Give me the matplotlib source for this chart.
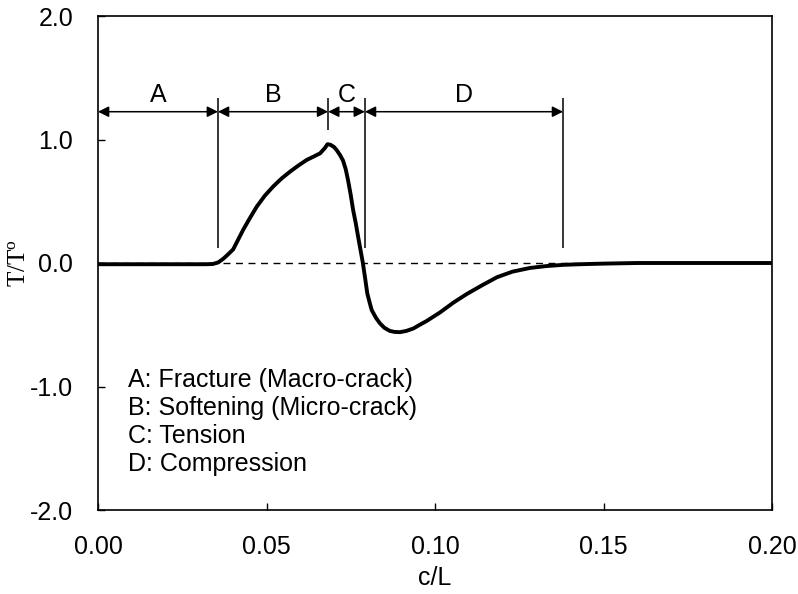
import matplotlib
matplotlib.use("Agg")
import matplotlib.pyplot as plt

plt.rcParams["font.family"] = ["Liberation Sans", "DejaVu Sans"]
plt.rcParams["mathtext.fontset"] = "custom"
plt.rcParams["mathtext.rm"] = "Liberation Serif"
plt.rcParams["mathtext.it"] = "Liberation Serif:italic"

# curve
c_over_L = [0.000, 0.010, 0.020, 0.030, 0.0320, 0.0341, 0.0357, 0.0372, 0.0386,
            0.0401, 0.0416, 0.0431, 0.0451, 0.0471, 0.0495, 0.0520, 0.0545,
            0.0570, 0.0595, 0.0619, 0.0640, 0.0659, 0.0673, 0.0681, 0.0690,
            0.0700, 0.0708, 0.0718, 0.0727, 0.0735, 0.0742, 0.0750, 0.0757,
            0.0765, 0.0772, 0.0779, 0.0786, 0.0793, 0.0799, 0.0806, 0.0812,
            0.0825, 0.0837, 0.0850, 0.0866, 0.0880, 0.0896, 0.0915, 0.0936,
            0.0955, 0.0975, 0.0995, 0.1015, 0.1055, 0.1095, 0.1140, 0.1184,
            0.1230, 0.1282, 0.1330, 0.1380, 0.1430, 0.1500, 0.1600, 0.1800,
            0.2000]
T_over_T0 = [-0.01, -0.01, -0.01, -0.01, -0.01, -0.008, 0.005, 0.035, 0.07,
             0.11, 0.19, 0.27, 0.365, 0.456, 0.545, 0.62, 0.685,
             0.74, 0.79, 0.834, 0.862, 0.888, 0.93, 0.962, 0.957,
             0.94, 0.915, 0.875, 0.83, 0.76, 0.67, 0.55, 0.43,
             0.32, 0.21, 0.105, 0.0, -0.13, -0.245, -0.32, -0.38,
             -0.445, -0.49, -0.525, -0.55, -0.558, -0.56, -0.55, -0.53,
             -0.50, -0.47, -0.435, -0.40, -0.32, -0.25, -0.18, -0.115,
             -0.07, -0.04, -0.025, -0.015, -0.01, -0.005, 0.0, 0.0,
             0.0]

# zone boundaries (c/L) and labels
zone_edges = [0.0, 0.0356, 0.0683, 0.0792, 0.138]
zone_names = ["A", "B", "C", "D"]
zone_text = ["A: Fracture (Macro-crack)", "B: Softening (Micro-crack)",
             "C: Tension", "D: Compression"]

fig = plt.figure(figsize=(7.98, 5.94), dpi=100)
ax = fig.add_axes([98 / 798, 1 - 510 / 594, 674 / 798, 494 / 594])

ax.axhline(0, color="black", lw=1.0, ls=(0, (5, 4)), zorder=1)
ax.plot(c_over_L, T_over_T0, color="black", lw=2.8, solid_joinstyle="round",
        solid_capstyle="round", zorder=3)

# vertical markers
ax.vlines([zone_edges[1], zone_edges[3], zone_edges[4]], 0.12, 1.34, color="black", lw=1.1)
ax.vlines(zone_edges[2], 1.08, 1.34, color="black", lw=1.1)

arrow_y = 1.225
for i, name in enumerate(zone_names):
    x0, x1 = zone_edges[i], zone_edges[i + 1]
    ax.annotate("", xy=(x1, arrow_y), xytext=(x0, arrow_y),
                arrowprops=dict(arrowstyle="<|-|>", color="black", lw=1.1,
                                mutation_scale=16, shrinkA=0, shrinkB=0))
    ax.text((x0 + x1) / 2, 1.30, name, ha="center", va="baseline", fontsize=18)

for i, t in enumerate(zone_text):
    ax.text(0.0089, -1.004 - 0.227 * i, t, ha="left", va="baseline", fontsize=18)

ax.set_xlim(0, 0.2)
ax.set_ylim(-2.0, 2.0)
ax.set_xticks([0.00, 0.05, 0.10, 0.15, 0.20])
ax.set_xticklabels(["0.00", "0.05", "0.10", "0.15", "0.20"])
ax.set_yticks([-2.0, -1.0, 0.0, 1.0, 2.0])
ax.set_yticklabels(["-2.0", "-1.0", "0.0", "1.0", "2.0"])
ax.tick_params(direction="in", length=5, width=1.0, labelsize=18, pad=18)
for s in ax.spines.values():
    s.set_linewidth(1.2)

ax.set_xlabel("c/L", fontsize=18, labelpad=5)
ax.set_ylabel(r"$\mathrm{T/T^{o}}$", fontsize=18, labelpad=0)

fig.savefig("out.png", dpi=100)
